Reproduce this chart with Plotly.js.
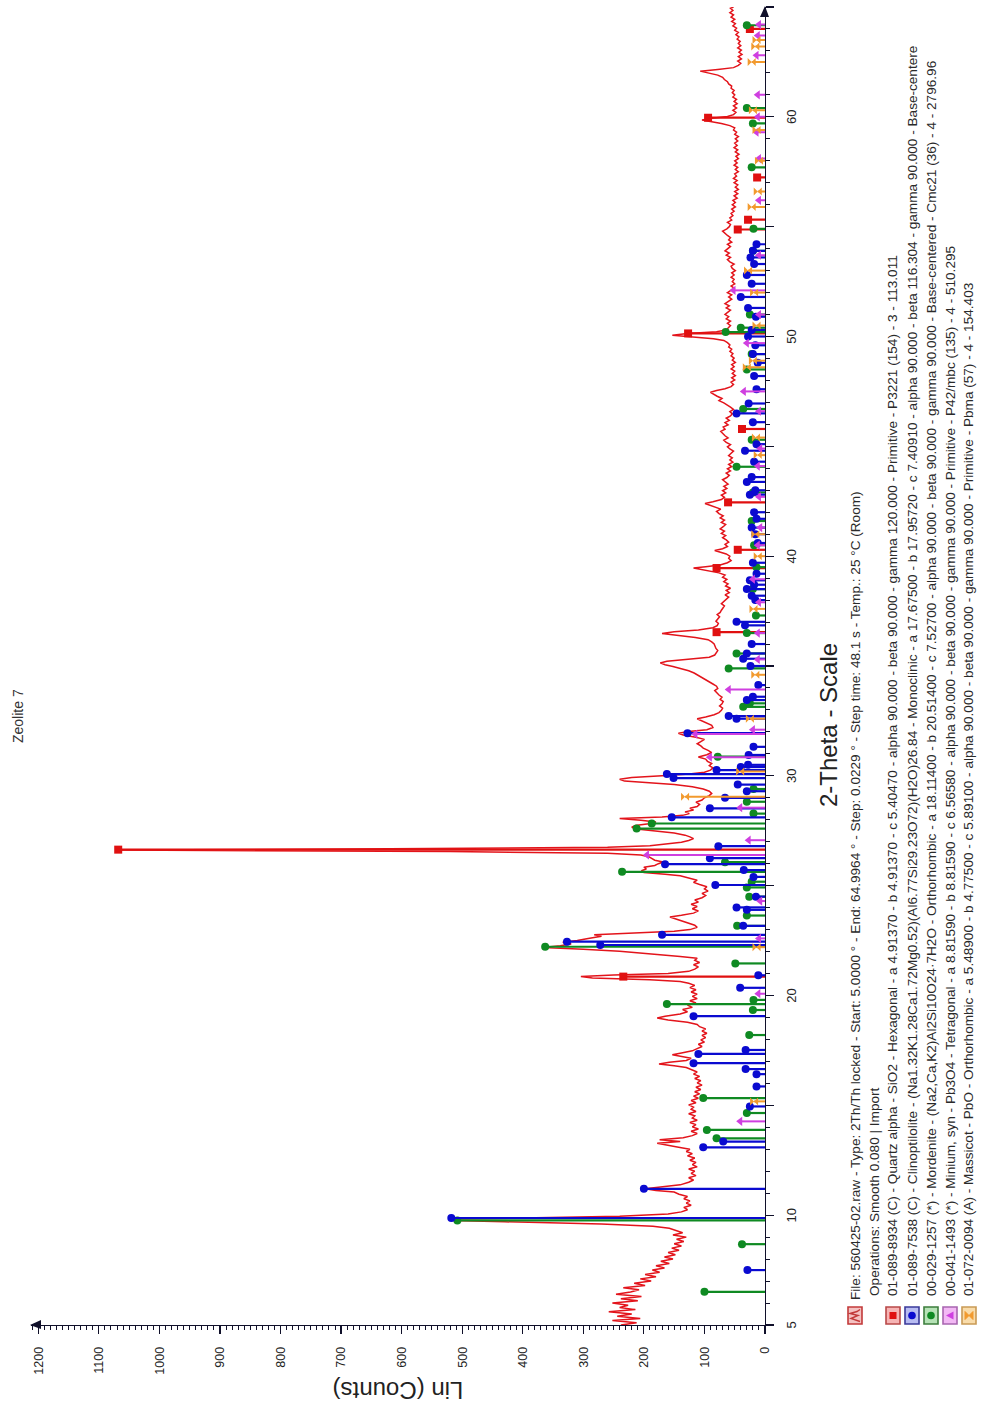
<!DOCTYPE html>
<html>
<head>
<meta charset="utf-8">
<script src="https://cdn.plot.ly/plotly-3.0.1.min.js"></script>
<style>
  html, body { margin: 0; padding: 0; background: #fff; }
  body { width: 984px; height: 1404px; overflow: hidden; position: relative; }
  /* the diffractogram is laid out landscape and turned a quarter turn */
  #wrap {
    position: absolute; left: 0; top: 0;
    width: 1404px; height: 984px;
    transform-origin: 0 0;
    transform: translate(0px, 1404px) rotate(-90deg);
  }
  #tag {
    position: absolute; left: 95px; top: 9px;
    font-family: "Liberation Serif", "Times New Roman", serif;
    font-size: 21px; color: #111;
  }
</style>
</head>
<body>
<div id="tag">(b)</div>
<div id="wrap"><div id="chart"></div></div>
<script>
// Measured pattern: [2-theta (deg), Lin counts]
const pattern = [
[5.0,238],[5.1,212],[5.2,252],[5.3,206],[5.4,244],[5.5,220],[5.6,258],[5.7,214],[5.8,240],[5.9,226],
[6.0,252],[6.1,210],[6.2,238],[6.3,204],[6.4,246],[6.5,222],[6.6,208],[6.7,234],[6.8,198],[6.9,216],
[7.0,188],[7.1,206],[7.2,180],[7.3,198],[7.4,174],[7.5,186],[7.6,166],[7.7,180],[7.8,158],[7.9,172],
[8.0,152],[8.1,166],[8.2,148],[8.3,160],[8.4,142],[8.5,154],[8.6,138],[8.7,150],[8.8,134],[8.9,146],
[9.0,130],[9.1,152],[9.2,136],[9.3,146],[9.4,158],[9.5,185],[9.6,270],[9.7,430],[9.76,517],[9.82,512],
[9.88,400],[9.95,240],[10.05,160],[10.15,138],[10.25,128],[10.35,134],[10.45,122],[10.55,130],[10.65,124],[10.75,134],
[10.85,128],[10.95,142],[11.05,150],[11.12,180],[11.2,198],[11.28,172],[11.38,140],[11.5,126],[11.6,118],[11.7,126],
[11.8,114],[11.9,122],[12.0,116],[12.1,126],[12.2,112],[12.3,120],[12.4,114],[12.5,124],[12.6,116],[12.7,128],
[12.8,120],[12.9,130],[13.0,124],[13.1,145],[13.2,168],[13.27,178],[13.35,140],[13.43,174],[13.52,135],[13.62,120],
[13.72,112],[13.82,122],[13.92,110],[14.02,120],[14.12,114],[14.22,124],[14.32,112],[14.42,120],[14.52,116],[14.62,126],
[14.72,114],[14.82,122],[14.92,118],[15.02,126],[15.12,114],[15.22,122],[15.32,110],[15.42,118],[15.52,108],[15.62,116],
[15.72,106],[15.82,114],[15.92,104],[16.02,112],[16.12,106],[16.22,116],[16.32,108],[16.42,118],[16.52,112],[16.62,122],
[16.72,130],[16.8,150],[16.88,175],[16.96,158],[17.04,130],[17.14,122],[17.22,140],[17.3,153],[17.38,138],[17.48,120],
[17.58,112],[17.68,104],[17.78,110],[17.88,100],[17.98,106],[18.08,98],[18.18,104],[18.28,96],[18.38,104],[18.48,98],
[18.58,108],[18.68,112],[18.78,128],[18.88,160],[18.98,178],[19.06,165],[19.16,140],[19.26,128],[19.36,136],[19.46,120],
[19.56,128],[19.66,114],[19.76,124],[19.86,112],[19.96,120],[20.06,112],[20.16,122],[20.26,114],[20.36,124],[20.46,116],
[20.56,126],[20.64,140],[20.72,190],[20.8,285],[20.86,304],[20.93,250],[21.0,160],[21.1,126],[21.2,116],[21.3,110],
[21.4,118],[21.5,108],[21.6,116],[21.7,112],[21.78,140],[21.86,178],[21.94,212],[22.02,240],[22.1,300],[22.18,366],
[22.26,338],[22.34,320],[22.42,334],[22.5,310],[22.6,292],[22.7,270],[22.76,282],[22.84,210],[22.92,150],[23.0,124],
[23.1,112],[23.2,116],[23.3,128],[23.4,140],[23.5,152],[23.57,157],[23.65,138],[23.75,118],[23.85,110],[23.95,120],
[24.05,112],[24.15,122],[24.25,110],[24.35,116],[24.45,104],[24.55,98],[24.65,104],[24.75,94],[24.85,100],[24.95,96],
[25.05,108],[25.15,118],[25.25,112],[25.35,128],[25.45,140],[25.52,165],[25.6,200],[25.68,204],[25.76,196],[25.84,200],
[25.92,182],[26.0,176],[26.08,168],[26.16,182],[26.24,188],[26.32,192],[26.4,205],[26.48,260],[26.55,520],[26.62,1070],
[26.68,620],[26.75,260],[26.82,190],[26.9,160],[26.98,138],[27.06,126],[27.14,118],[27.22,124],[27.3,132],[27.4,150],
[27.5,180],[27.58,212],[27.66,220],[27.74,214],[27.82,192],[27.9,180],[27.98,205],[28.06,240],[28.13,170],[28.2,136],
[28.28,125],[28.36,132],[28.44,118],[28.52,124],[28.6,112],[28.7,108],[28.8,114],[28.9,104],[29.0,100],[29.1,92],
[29.2,88],[29.3,92],[29.4,102],[29.5,120],[29.6,150],[29.68,198],[29.76,232],[29.84,240],[29.92,220],[30.0,170],
[30.08,125],[30.16,100],[30.26,90],[30.36,86],[30.46,92],[30.56,88],[30.66,95],[30.76,98],[30.86,110],[30.96,96],
[31.06,88],[31.16,94],[31.26,102],[31.36,106],[31.46,112],[31.56,106],[31.66,100],[31.76,114],[31.86,135],[31.94,143],
[32.02,126],[32.1,96],[32.2,86],[32.3,88],[32.4,96],[32.5,104],[32.6,112],[32.68,98],[32.78,84],[32.88,76],
[32.98,72],[33.08,70],[33.18,75],[33.28,71],[33.38,69],[33.48,74],[33.58,71],[33.68,76],[33.78,79],[33.88,83],
[33.98,78],[34.08,80],[34.18,86],[34.28,92],[34.38,98],[34.48,104],[34.58,110],[34.68,117],[34.78,126],[34.88,138],
[34.98,152],[35.06,165],[35.14,173],[35.22,162],[35.3,124],[35.4,92],[35.5,83],[35.6,80],[35.7,78],[35.8,81],
[35.9,83],[36.0,84],[36.1,88],[36.2,94],[36.3,115],[36.4,150],[36.48,170],[36.56,150],[36.64,110],[36.74,86],
[36.84,79],[36.94,77],[37.04,81],[37.14,78],[37.24,75],[37.34,79],[37.44,74],[37.54,72],[37.64,70],[37.74,67],
[37.84,72],[37.94,68],[38.04,64],[38.14,60],[38.24,66],[38.34,59],[38.44,64],[38.54,57],[38.64,65],[38.74,61],
[38.84,68],[38.94,63],[39.04,70],[39.14,66],[39.24,76],[39.32,92],[39.4,112],[39.46,118],[39.52,98],[39.6,74],
[39.7,62],[39.8,56],[39.9,60],[40.0,58],[40.1,64],[40.18,76],[40.26,83],[40.34,70],[40.44,62],[40.54,66],
[40.64,60],[40.74,64],[40.84,70],[40.94,65],[41.04,72],[41.14,67],[41.24,74],[41.34,69],[41.44,65],[41.54,72],
[41.64,67],[41.74,74],[41.84,69],[41.94,76],[42.04,80],[42.14,73],[42.24,82],[42.32,92],[42.4,99],[42.48,86],
[42.58,72],[42.68,67],[42.78,72],[42.88,65],[42.98,70],[43.08,63],[43.18,68],[43.28,61],[43.38,66],[43.48,70],
[43.58,63],[43.68,59],[43.78,64],[43.88,57],[43.98,62],[44.08,55],[44.18,60],[44.28,53],[44.38,58],[44.48,54],
[44.58,60],[44.68,55],[44.78,52],[44.88,58],[44.98,62],[45.08,57],[45.18,64],[45.28,68],[45.38,61],[45.48,66],
[45.58,70],[45.68,73],[45.78,66],[45.88,69],[45.98,61],[46.08,66],[46.18,59],[46.28,64],[46.38,57],[46.48,54],
[46.58,58],[46.68,52],[46.78,57],[46.88,62],[46.98,68],[47.08,76],[47.18,71],[47.28,79],[47.38,84],[47.46,90],
[47.54,80],[47.62,66],[47.72,56],[47.82,52],[47.92,56],[48.02,50],[48.12,55],[48.22,49],[48.32,54],[48.42,50],
[48.52,56],[48.62,51],[48.72,55],[48.82,49],[48.92,54],[49.02,51],[49.12,56],[49.22,53],[49.32,58],[49.42,55],
[49.52,60],[49.62,58],[49.72,62],[49.82,68],[49.9,85],[49.98,125],[50.06,153],[50.14,128],[50.22,80],[50.3,64],
[50.4,60],[50.5,57],[50.6,62],[50.7,57],[50.8,64],[50.9,60],[51.0,66],[51.1,61],[51.2,57],[51.3,64],
[51.4,59],[51.5,66],[51.6,60],[51.7,55],[51.8,60],[51.9,55],[52.0,62],[52.1,57],[52.2,51],[52.3,56],
[52.4,50],[52.5,54],[52.6,51],[52.7,56],[52.8,51],[52.9,55],[53.0,49],[53.1,54],[53.2,56],[53.3,51],
[53.4,58],[53.5,62],[53.6,57],[53.7,64],[53.8,59],[53.9,66],[54.0,61],[54.1,57],[54.2,62],[54.3,55],
[54.4,60],[54.5,57],[54.6,62],[54.7,66],[54.8,70],[54.9,63],[55.0,59],[55.1,57],[55.2,62],[55.3,55],
[55.4,58],[55.5,53],[55.6,56],[55.7,51],[55.8,55],[55.9,49],[56.0,54],[56.1,49],[56.2,53],[56.3,46],
[56.4,51],[56.5,45],[56.6,50],[56.7,44],[56.8,49],[56.9,45],[57.0,51],[57.1,46],[57.2,52],[57.3,47],
[57.4,50],[57.5,44],[57.6,49],[57.7,45],[57.8,51],[57.9,46],[58.0,50],[58.1,44],[58.2,48],[58.3,43],
[58.4,49],[58.5,45],[58.6,51],[58.7,46],[58.8,50],[58.9,45],[59.0,49],[59.1,44],[59.2,50],[59.3,47],
[59.4,52],[59.5,50],[59.6,58],[59.7,72],[59.78,92],[59.86,104],[59.94,88],[60.02,62],[60.1,52],[60.2,48],
[60.3,53],[60.4,47],[60.5,52],[60.6,46],[60.7,51],[60.8,47],[60.9,53],[61.0,50],[61.1,54],[61.2,51],
[61.3,56],[61.4,55],[61.5,60],[61.6,62],[61.7,67],[61.8,70],[61.9,78],[62.0,92],[62.08,107],[62.16,78],
[62.24,52],[62.34,44],[62.44,40],[62.54,45],[62.64,39],[62.74,44],[62.84,38],[62.94,43],[63.04,39],[63.14,45],
[63.24,40],[63.34,44],[63.44,41],[63.54,46],[63.64,43],[63.74,48],[63.84,44],[63.94,50],[64.04,47],[64.14,53],
[64.24,49],[64.34,55],[64.44,50],[64.54,56],[64.64,52],[64.74,58],[64.84,53],[64.94,57],[64.9964,52]
];

// Reference patterns: [2-theta (deg), stick height in counts]
const quartz = [
[20.86,234],[26.64,1068],[36.54,80],[39.46,80],[40.29,45],[42.45,61],[45.79,38],[50.14,127],
[54.87,45],[55.32,28],[57.24,13],[59.96,94],[64.0,25]
];
const clinoptilolite = [
[7.5,29],[9.87,518],[11.2,200],[13.09,102],[13.35,69],[14.95,25],[15.86,14],[16.42,14],[16.65,32],
[16.92,118],[17.34,110],[17.52,32],[19.06,118],[20.35,41],[20.92,11],[22.3,272],[22.45,327],[22.76,170],
[23.17,36],[23.9,30],[24.01,47],[24.5,15],[25.03,82],[25.4,19],[25.71,35],[25.98,165],[26.25,91],
[26.8,77],[28.11,154],[28.52,91],[29.0,66],[29.3,30],[29.6,45],[29.9,151],[30.08,162],[30.26,80],
[30.4,40],[30.5,28],[30.95,27],[31.32,19],[31.94,128],[32.6,47],[32.72,60],[33.45,30],[33.6,20],
[34.13,11],[35.0,24],[35.33,36],[35.57,30],[36.0,22],[36.85,33],[37.01,47],[38.0,16],[38.2,22],
[38.5,30],[38.7,18],[38.9,25],[39.2,14],[39.7,20],[40.6,12],[41.0,16],[41.3,22],[41.7,14],[42.0,18],
[42.8,25],[43.0,16],[43.38,30],[43.6,22],[44.3,18],[44.8,33],[45.1,14],[46.1,20],[46.5,47],[46.95,27],
[47.6,14],[48.2,18],[48.8,12],[49.2,20],[49.6,16],[50.0,28],[50.3,22],[50.9,15],[51.3,28],[51.8,40],
[52.4,22],[52.8,30],[53.3,18],[53.6,24],[53.9,20],[54.2,14]
];
const mordenite = [
[6.51,100],[8.68,38],[9.76,508],[13.5,80],[13.88,96],[14.65,30],[15.33,102],[18.2,26],[19.34,20],
[19.61,162],[19.8,19],[21.46,49],[22.22,363],[23.17,46],[23.64,30],[24.5,26],[24.92,30],[25.18,22],
[25.63,236],[26.07,66],[27.6,212],[27.83,187],[28.28,19],[28.82,30],[29.4,19],[30.87,78],[33.14,36],
[33.3,25],[34.89,60],[35.57,47],[36.5,30],[37.3,15],[38.5,20],[39.5,14],[40.5,18],[41.6,22],[42.9,20],
[44.07,47],[45.3,22],[46.7,36],[48.5,30],[49.2,22],[50.2,65],[50.4,40],[51.0,25],[53.9,20],[54.9,19],
[57.7,22],[59.7,20],[60.4,30],[64.17,30]
];
const minium = [
[14.27,41],[20.08,11],[22.6,10],[24.3,8],[26.4,195],[27.07,27],[28.55,41],[30.85,91],[31.9,115],
[32.1,20],[33.93,60],[35.3,12],[36.5,12],[37.9,10],[38.95,20],[40.5,12],[41.3,8],[42.7,10],[44.1,12],
[44.9,8],[46.6,10],[47.5,35],[49.7,30],[51.0,10],[52.1,52],[53.7,10],[56.2,10],[58.1,10],[59.3,14],
[60.0,12],[61.0,12],[62.8,14],[63.7,12],[64.2,10]
];
const massicot = [
[15.18,18],[22.2,14],[29.05,132],[30.2,41],[32.6,25],[34.6,16],[37.6,19],[40.0,12],[41.0,16],
[44.6,12],[45.4,15],[48.6,30],[48.9,20],[50.5,14],[52.0,18],[53.0,28],[55.9,22],[56.6,12],
[58.0,10],[59.4,14],[60.3,20],[62.5,22],[63.2,16],[63.5,14]
];

// Axis ticks
const thetaTicks = [5, 10, 15, 20, 25, 30, 35, 40, 45, 50, 55, 60, 65];
const thetaTickText = ['5', '10', '', '20', '', '30', '', '40', '', '50', '', '60', ''];
const countTicks = [0, 100, 200, 300, 400, 500, 600, 700, 800, 900, 1000, 1100, 1200];

// Legend text
const legendLines = [
  'File: 560425-02.raw - Type: 2Th/Th locked - Start: 5.0000 \u00b0 - End: 64.9964 \u00b0 - Step: 0.0229 \u00b0 - Step time: 48.1 s - Temp.: 25 \u00b0C (Room)',
  'Operations: Smooth 0.080 | Import',
  '01-089-8934 (C) - Quartz alpha - SiO2 - Hexagonal - a 4.91370 - b 4.91370 - c 5.40470 - alpha 90.000 - beta 90.000 - gamma 120.000 - Primitive - P3221 (154) - 3 - 113.011',
  '01-089-7538 (C) - Clinoptilolite - (Na1.32K1.28Ca1.72Mg0.52)(Al6.77Si29.23O72)(H2O)26.84 - Monoclinic - a 17.67500 - b 17.95720 - c 7.40910 - alpha 90.000 - beta 116.304 - gamma 90.000 - Base-centere',
  '00-029-1257 (*) - Mordenite - (Na2,Ca,K2)Al2Si10O24\u00b77H2O - Orthorhombic - a 18.11400 - b 20.51400 - c 7.52700 - alpha 90.000 - beta 90.000 - gamma 90.000 - Base-centered - Cmc21 (36) - 4 - 2796.96',
  '00-041-1493 (*) - Minium, syn - Pb3O4 - Tetragonal - a 8.81590 - b 8.81590 - c 6.56580 - alpha 90.000 - beta 90.000 - gamma 90.000 - Primitive - P42/mbc (135) - 4 - 510.295',
  '01-072-0094 (A) - Massicot - PbO - Orthorhombic - a 5.48900 - b 4.77500 - c 5.89100 - alpha 90.000 - beta 90.000 - gamma 90.000 - Primitive - Pbma (57) - 4 - 154.403'
];

// ---- figure geometry (landscape frame before the quarter turn) ----
const W = 1404, H = 984;
const M = { l: 79, r: 7, t: 31, b: 219 };
const PW = W - M.l - M.r, PH = H - M.t - M.b;
const px = x => (x - M.l) / PW;          // pixel -> paper x
const py = y => (H - M.b - y) / PH;      // pixel -> paper y
const FONT = 'Liberation Sans, Arial, sans-serif';

const C = {
  pattern: '#e3141b',
  quartz: '#e01010', quartzFill: '#f6b4b4', quartzEdge: '#b84848',
  clino: '#0a0ad0', clinoFill: '#b8bcf2', clinoEdge: '#3a3a9a',
  mord: '#0f8a22', mordFill: '#b6e2b6', mordEdge: '#3d7d3d',
  minium: '#cf3fe0', miniumFill: '#f2b8f4', miniumEdge: '#a865b0',
  mass: '#f29a2e', massFill: '#f9dcaa', massEdge: '#c99a55'
};

function sticks(list, color, width) {
  const x = [], y = [];
  list.forEach(([a, h]) => { x.push(a, a, null); y.push(0, h, null); });
  return { x, y, type: 'scatter', mode: 'lines', hoverinfo: 'skip',
           line: { color, width }, showlegend: false };
}
function heads(list, color, symbol, size) {
  return { x: list.map(p => p[0]), y: list.map(p => p[1]), type: 'scatter',
           mode: 'markers', hoverinfo: 'skip', showlegend: false,
           marker: { color, symbol, size, line: { width: 0 } } };
}

const traces = [
  { x: pattern.map(p => p[0]), y: pattern.map(p => p[1]), type: 'scatter', mode: 'lines',
    line: { color: C.pattern, width: 1.5 }, hoverinfo: 'skip', showlegend: false },
  sticks(quartz, C.quartz, 2.2), heads(quartz, C.quartz, 'square', 8),
  sticks(mordenite, C.mord, 2.2), heads(mordenite, C.mord, 'circle', 8),
  sticks(clinoptilolite, C.clino, 2.2), heads(clinoptilolite, C.clino, 'circle', 8),
  sticks(minium, C.minium, 2), heads(minium, C.minium, 'triangle-up', 8),
  sticks(massicot, C.mass, 2), heads(massicot, C.mass, 'hourglass', 8)
];

// ---- legend block under the plot ----
const shapes = [];
const annotations = [];
const rowY = [855, 874, 893, 912, 931, 950, 969];
const boxX0 = 80, boxX1 = 97, boxH = 14;
const legendKeys = [
  { row: 0, kind: 'file', fill: '#f4c2c2', edge: '#c23a3a', mark: C.quartz },
  { row: 2, kind: 'square', fill: C.quartzFill, edge: C.quartzEdge, mark: C.quartz },
  { row: 3, kind: 'circle', fill: C.clinoFill, edge: C.clinoEdge, mark: C.clino },
  { row: 4, kind: 'circle', fill: C.mordFill, edge: C.mordEdge, mark: C.mord },
  { row: 5, kind: 'triangle', fill: C.miniumFill, edge: C.miniumEdge, mark: C.minium },
  { row: 6, kind: 'hourglass', fill: C.massFill, edge: C.massEdge, mark: C.mass }
];
legendKeys.forEach(k => {
  const yc = rowY[k.row], xc = (boxX0 + boxX1) / 2;
  shapes.push({ type: 'rect', xref: 'paper', yref: 'paper', layer: 'above',
    x0: px(boxX0), x1: px(boxX1), y0: py(yc + boxH / 2), y1: py(yc - boxH / 2),
    fillcolor: k.fill, line: { color: k.edge, width: 1.6 } });
  const P = (x, y) => px(x) + ',' + py(y);
  if (k.kind === 'square') {
    shapes.push({ type: 'rect', xref: 'paper', yref: 'paper', layer: 'above',
      x0: px(xc - 3.5), x1: px(xc + 3.5), y0: py(yc + 3.5), y1: py(yc - 3.5),
      fillcolor: k.mark, line: { width: 0 } });
  } else if (k.kind === 'circle') {
    shapes.push({ type: 'circle', xref: 'paper', yref: 'paper', layer: 'above',
      x0: px(xc - 3.8), x1: px(xc + 3.8), y0: py(yc + 3.8), y1: py(yc - 3.8),
      fillcolor: k.mark, line: { width: 0 } });
  } else if (k.kind === 'triangle') {
    shapes.push({ type: 'path', xref: 'paper', yref: 'paper', layer: 'above',
      path: 'M' + P(xc - 4, yc + 3.5) + 'L' + P(xc + 4, yc + 3.5) + 'L' + P(xc, yc - 4) + 'Z',
      fillcolor: k.mark, line: { width: 0 } });
  } else if (k.kind === 'hourglass') {
    shapes.push({ type: 'path', xref: 'paper', yref: 'paper', layer: 'above',
      path: 'M' + P(xc - 4, yc - 4) + 'L' + P(xc + 4, yc - 4) + 'L' + P(xc - 4, yc + 4) + 'L' + P(xc + 4, yc + 4) + 'Z',
      fillcolor: k.mark, line: { color: k.mark, width: 1 } });
  } else {
    shapes.push({ type: 'path', xref: 'paper', yref: 'paper', layer: 'above',
      path: 'M' + P(xc - 6, yc + 5) + 'L' + P(xc - 3, yc - 4) + 'L' + P(xc, yc + 3) +
            'L' + P(xc + 2, yc - 5) + 'L' + P(xc + 4, yc + 2) + 'L' + P(xc + 6, yc + 5),
      line: { color: k.edge, width: 1.4 } });
  }
});
legendLines.forEach((t, i) => {
  annotations.push({ xref: 'paper', yref: 'paper', x: px(i === 0 ? 102 : 106), y: py(rowY[i]),
    xanchor: 'left', yanchor: 'middle', showarrow: false, text: t,
    font: { family: FONT, size: 13.6, color: '#2a2a2a' } });
});

// titles
annotations.push({ xref: 'paper', yref: 'paper', x: px(688), y: py(18), xanchor: 'center', yanchor: 'middle',
  showarrow: false, text: 'Zeolite 7', font: { family: FONT, size: 14, color: '#333' } });
annotations.push({ xref: 'paper', yref: 'paper', x: px(679), y: py(828), xanchor: 'center', yanchor: 'middle',
  showarrow: false, text: '2-Theta - Scale', font: { family: FONT, size: 24, color: '#222' } });

// axis end arrows
shapes.push({ type: 'path', xref: 'paper', yref: 'paper', layer: 'above',
  path: 'M' + px(1387) + ',' + py(760) + 'L' + px(1387) + ',' + py(769) + 'L' + px(1398) + ',' + py(765) + 'Z',
  fillcolor: '#10102a', line: { width: 0 } });
shapes.push({ type: 'path', xref: 'paper', yref: 'paper', layer: 'above',
  path: 'M' + px(75) + ',' + py(41) + 'L' + px(84) + ',' + py(41) + 'L' + px(79) + ',' + py(30) + 'Z',
  fillcolor: '#10102a', line: { width: 0 } });

const axisCommon = {
  showgrid: false, zeroline: false, showline: true, linecolor: '#10102a', linewidth: 1.4,
  ticks: 'outside', tickcolor: '#10102a', tickwidth: 1.2, fixedrange: true
};

const layout = {
  width: W, height: H, margin: M, paper_bgcolor: '#fff', plot_bgcolor: '#fff',
  font: { family: FONT, color: '#222' }, showlegend: false,
  xaxis: Object.assign({}, axisCommon, {
    range: [5, 65], tickmode: 'array', tickvals: thetaTicks, ticktext: thetaTickText,
    ticklen: 8, ticklabelstandoff: 6, tickfont: { family: FONT, size: 13, color: '#222' },
    minor: { dtick: 1, tick0: 5, ticks: 'outside', ticklen: 4, tickcolor: '#10102a', tickwidth: 1 }
  }),
  yaxis: Object.assign({}, axisCommon, {
    range: [0, 1212], tickmode: 'array', tickvals: countTicks,
    ticklen: 8, ticklabelstandoff: 10, tickfont: { family: FONT, size: 12.5, color: '#222' },
    minor: { dtick: 10, tick0: 0, ticks: 'outside', ticklen: 4, tickcolor: '#10102a', tickwidth: 1 },
    title: { text: 'Lin (Counts)', font: { family: FONT, size: 24, color: '#222' }, standoff: 0 }
  }),
  shapes, annotations
};

Plotly.newPlot('chart', traces, layout, { displayModeBar: false, staticPlot: true });
</script>
</body>
</html>
